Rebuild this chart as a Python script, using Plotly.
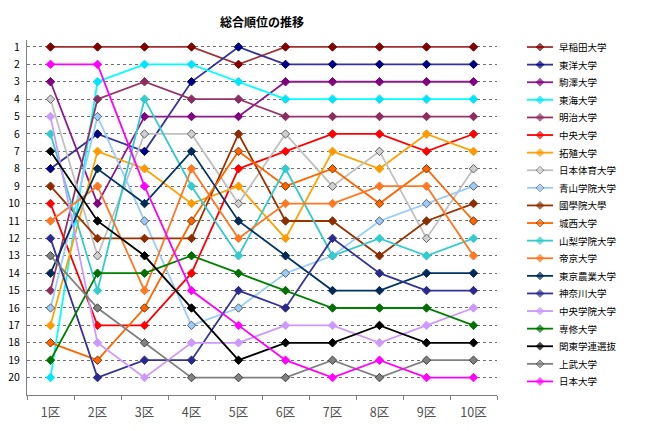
import plotly.graph_objects as go

sections = ['1区', '2区', '3区', '4区', '5区', '6区', '7区', '8区', '9区', '10区']

waseda     = [1, 1, 1, 1, 2, 1, 1, 1, 1, 1]
toyo       = [8, 6, 7, 3, 1, 2, 2, 2, 2, 2]
komazawa   = [3, 10, 5, 5, 5, 3, 3, 3, 3, 3]
tokai      = [20, 3, 2, 2, 3, 4, 4, 4, 4, 4]
meiji      = [15, 4, 3, 4, 4, 5, 5, 5, 5, 5]
chuo       = [10, 17, 17, 14, 8, 7, 6, 6, 7, 6]
takushoku  = [17, 7, 8, 10, 9, 12, 7, 8, 6, 7]
nittai     = [4, 13, 6, 6, 10, 6, 9, 7, 12, 8]
aoyama     = [16, 5, 11, 17, 16, 14, 13, 11, 10, 9]
kokugakuin = [9, 12, 12, 12, 6, 11, 11, 13, 11, 10]
josai      = [18, 19, 16, 11, 7, 9, 8, 10, 8, 11]
yamanashi  = [6, 15, 4, 9, 13, 8, 13, 12, 13, 12]
teikyo     = [11, 9, 15, 8, 12, 10, 10, 9, 9, 13]
nodai      = [14, 8, 10, 7, 11, 13, 15, 15, 14, 14]
kanagawa   = [12, 20, 19, 19, 15, 16, 12, 14, 15, 15]
chuogakuin = [5, 18, 20, 18, 18, 17, 17, 18, 17, 16]
senshu     = [19, 14, 14, 13, 14, 15, 16, 16, 16, 17]
gakuren    = [7, 11, 13, 16, 19, 18, 18, 17, 18, 18]
jobu       = [13, 16, 18, 20, 20, 20, 19, 20, 19, 19]
nihon      = [2, 2, 9, 15, 17, 19, 20, 19, 20, 20]

# name, ranks, line colour, marker fill, marker edge
teams = [
    ('早稲田大学', waseda, '#a0302f', '#800000', '#800000'),
    ('東洋大学', toyo, '#333399', '#000080', '#000080'),
    ('駒澤大学', komazawa, '#8b1a8b', '#800080', '#800080'),
    ('東海大学', tokai, '#00ffff', '#00e5ff', '#00e5ff'),
    ('明治大学', meiji, '#993366', '#8b2d5e', '#8b2d5e'),
    ('中央大学', chuo, '#ff0000', '#ff0000', '#ff0000'),
    ('拓殖大学', takushoku, '#ffa200', '#ff9900', '#ff9900'),
    ('日本体育大学', nittai, '#c0c0c0', '#d0d0d0', '#606060'),
    ('青山学院大学', aoyama, '#99ccff', '#99ccff', '#606060'),
    ('國學院大學', kokugakuin, '#993300', '#8b2d00', '#8b2d00'),
    ('城西大学', josai, '#ff6600', '#ff6600', '#803300'),
    ('山梨学院大学', yamanashi, '#33cccc', '#33cccc', '#33cccc'),
    ('帝京大学', teikyo, '#ff7722', '#ff7722', '#ff7722'),
    ('東京農業大学', nodai, '#003366', '#002a55', '#002a55'),
    ('神奈川大学', kanagawa, '#333399', '#2a2a8b', '#2a2a8b'),
    ('中央学院大学', chuogakuin, '#cc99ff', '#cc99ff', '#cc99ff'),
    ('専修大学', senshu, '#008000', '#007000', '#007000'),
    ('関東学連選抜', gakuren, '#000000', '#000000', '#000000'),
    ('上武大学', jobu, '#808080', '#808080', '#404040'),
    ('日本大学', nihon, '#ff00ff', '#ff00ff', '#ff00ff'),
]

W, H = 646, 431
ML = 27
plot_w = W - ML
main_dom = 470 / plot_w  # main plot spans 470 px

fig = go.Figure()
xs = list(range(1, len(sections) + 1))
for name, ranks, lc, mc, ec in teams:
    fig.add_trace(go.Scatter(
        x=xs, y=ranks, name=name, mode='lines+markers',
        line=dict(color=lc, width=1.8),
        marker=dict(symbol='diamond', size=6.5, color=mc, line=dict(color=ec, width=1)),
        showlegend=False,
    ))

# hand-made legend on its own hidden axes (x2 in pixel units)
for i, (name, ranks, lc, mc, ec) in enumerate(teams):
    row = i + 1
    fig.add_trace(go.Scatter(
        x=[527, 540, 553], y=[row, row, row], mode='lines+markers',
        line=dict(color=lc, width=1.8),
        marker=dict(symbol='diamond', size=[0, 6, 0], color=mc, line=dict(color=ec, width=1)),
        xaxis='x2', yaxis='y2', showlegend=False, hoverinfo='skip',
    ))
    fig.add_annotation(x=557, y=row, xref='x2', yref='y2', text=name,
                       showarrow=False, xanchor='left', yanchor='middle',
                       font=dict(size=9.5, color='#000000'))

fig.update_layout(
    width=W, height=H,
    margin=dict(l=ML, r=0, t=40, b=36),
    paper_bgcolor='white', plot_bgcolor='white',
    font=dict(family='Noto Sans CJK JP', size=11, color='#000000'),
    title=dict(text='<b>総合順位の推移</b>', x=main_dom / 2, xref='paper', xanchor='center',
               yref='container', y=0.946, yanchor='middle',
               font=dict(size=12, color='#000000')),
    showlegend=False,
    xaxis=dict(
        domain=[0, main_dom], anchor='y',
        range=[0.5, 10.5], tickvals=xs, ticktext=sections, ticks='',
        showline=True, linecolor='#808080', linewidth=1, automargin=False,
        showgrid=False, zeroline=False, ticklabelstandoff=6,
        tickfont=dict(size=12.5, color='#505050'),
        minor=dict(tick0=0.5, dtick=1, ticks='outside', ticklen=4,
                   tickcolor='#808080', showgrid=False),
    ),
    yaxis=dict(
        domain=[0, 1], anchor='x',
        range=[21, 0.6], tickvals=list(range(1, 21)), ticks='',
        showline=True, linecolor='#808080', linewidth=1, automargin=False,
        showgrid=True, gridcolor='#707070', griddash='dot', gridwidth=1,
        zeroline=False, ticklabelstandoff=4,
        tickfont=dict(size=10.5, color='#000000'),
    ),
    xaxis2=dict(domain=[(520 - ML) / plot_w, 1.0], range=[520, 646], visible=False,
                anchor='y2'),
    yaxis2=dict(domain=[0, 1], range=[20.77, 0.6], visible=False, anchor='x2'),
)

fig.write_html('out.html', config={'displayModeBar': False},
               post_script="document.body.style.margin='0';")
